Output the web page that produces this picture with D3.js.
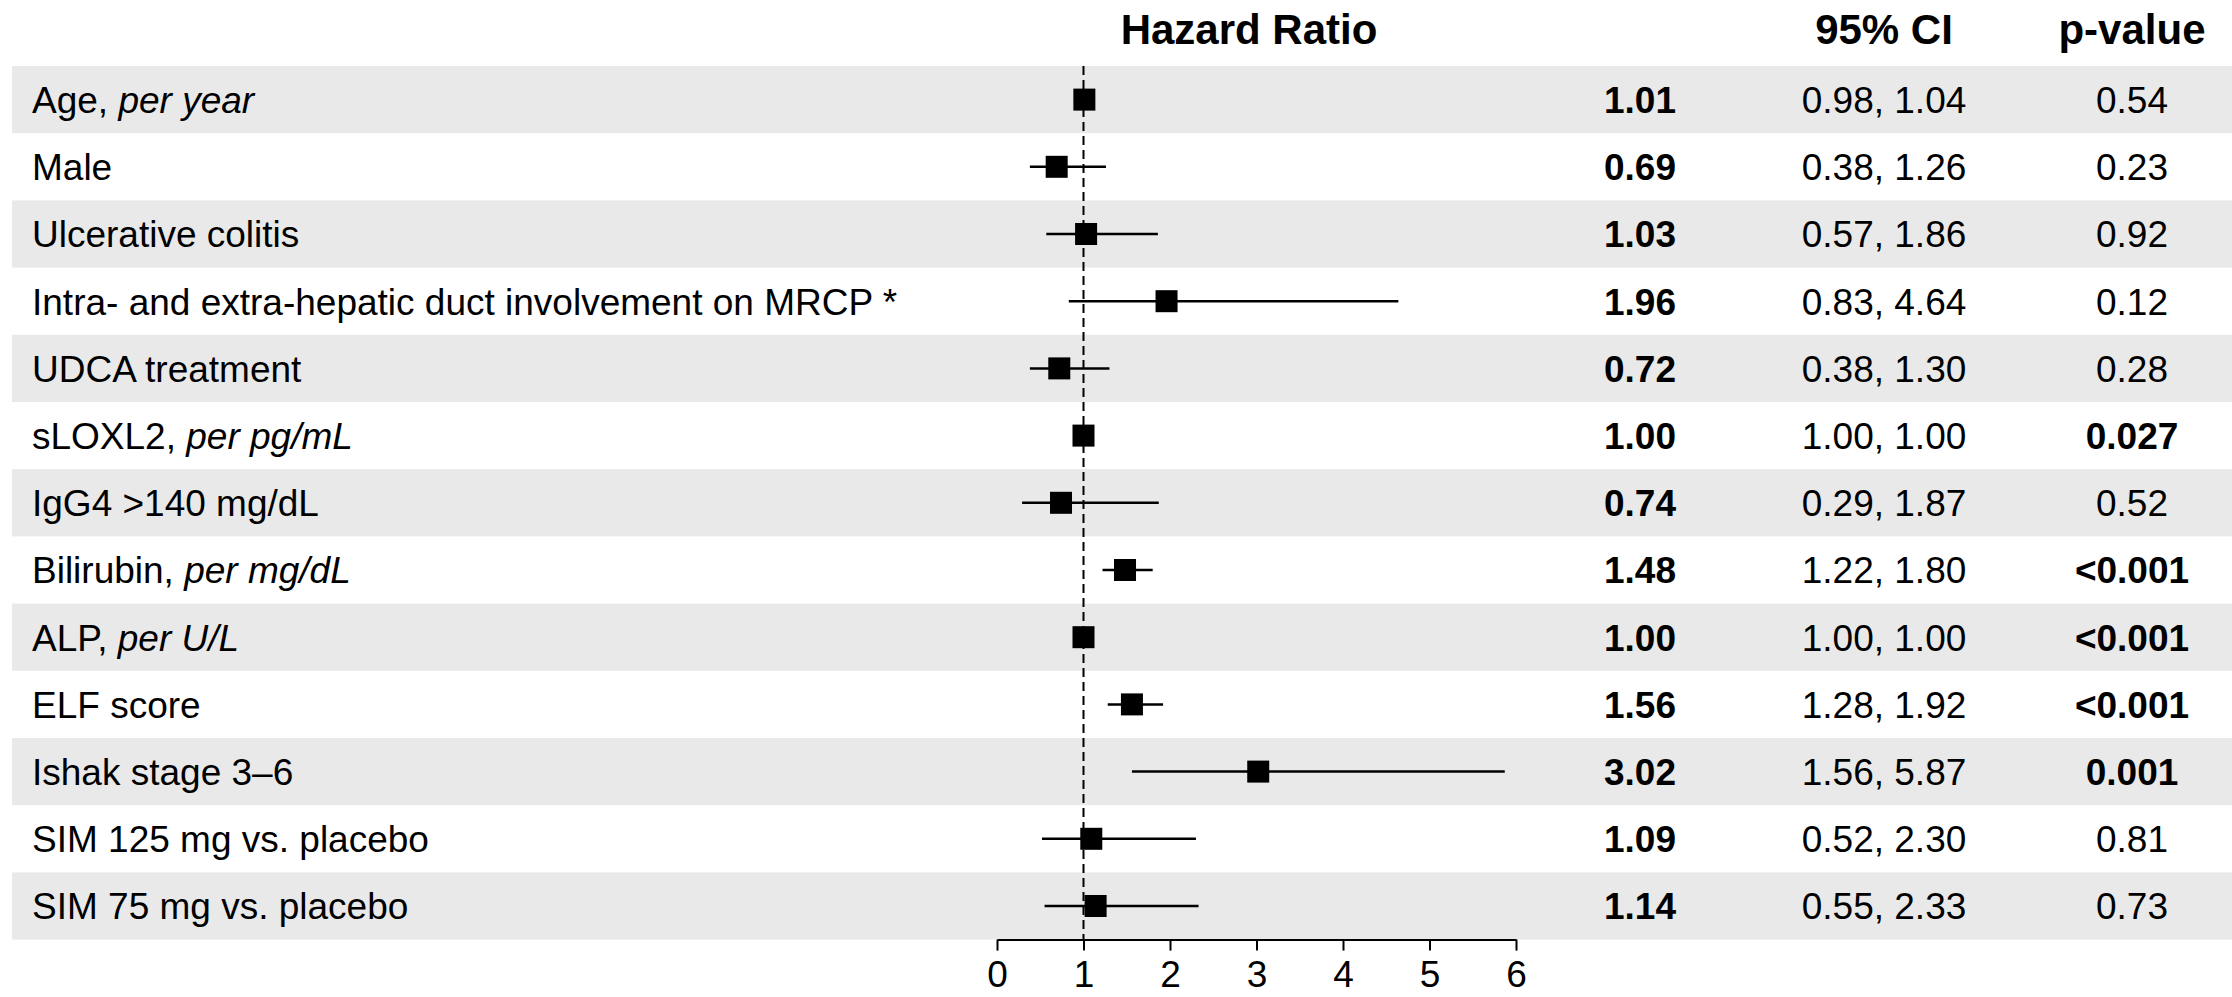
<!DOCTYPE html>
<html>
<head>
<meta charset="utf-8">
<script src="https://d3js.org/d3.v7.min.js"></script>
<style>
  html, body { margin: 0; padding: 0; background: #fff; }
  svg { display: block; font-family: "Liberation Sans", Arial, sans-serif; }
</style>
</head>
<body>
<svg></svg>
<script>
const labels = [
  "Age, ", "Male", "Ulcerative colitis", "Intra- and extra-hepatic duct involvement on MRCP *",
  "UDCA treatment", "sLOXL2, ", "IgG4 >140 mg/dL", "Bilirubin, ", "ALP, ", "ELF score",
  "Ishak stage 3\u20136", "SIM 125 mg vs. placebo", "SIM 75 mg vs. placebo"
];
const labelUnits = ["per year", "", "", "", "", "per pg/mL", "", "per mg/dL", "per U/L", "", "", "", ""];
const hr = [1.01, 0.69, 1.03, 1.96, 0.72, 1.00, 0.74, 1.48, 1.00, 1.56, 3.02, 1.09, 1.14];
const ciLow = [0.98, 0.38, 0.57, 0.83, 0.38, 1.00, 0.29, 1.22, 1.00, 1.28, 1.56, 0.52, 0.55];
const ciHigh = [1.04, 1.26, 1.86, 4.64, 1.30, 1.00, 1.87, 1.80, 1.00, 1.92, 5.87, 2.30, 2.33];
const pValues = ["0.54", "0.23", "0.92", "0.12", "0.28", "0.027", "0.52", "<0.001", "<0.001", "<0.001", "0.001", "0.81", "0.73"];
const pSignificant = [false, false, false, false, false, true, false, true, true, true, true, false, false];
const xTicks = [0, 1, 2, 3, 4, 5, 6];
const headers = ["Hazard Ratio", "95% CI", "p-value"];

document.addEventListener("DOMContentLoaded", function() {
  const width = 2232;
  const height = 997;
  const top = 66;
  const bottom = 939.6;
  const fontSize = 37;
  const hrCol = 1640;
  const ciCol = 1884;
  const pCol = 2132;
  const boxSize = 22;

  let svg = d3.select("svg")
              .attr("width", width)
              .attr("height", height);

  let rows = labels.map((d, i) => i);

  //set up scales
  let xScale = d3.scaleLinear()
                 .domain([0, 6])
                 .range([997, 1516]);

  let yScale = d3.scaleBand()
                 .domain(rows)
                 .range([top, bottom]);

  //striped row backgrounds
  svg.selectAll(".band")
     .data(rows.filter(i => i % 2 === 0))
     .enter()
     .append("rect")
       .attr("x", 12)
       .attr("y", i => yScale(i))
       .attr("width", width - 12)
       .attr("height", yScale.bandwidth())
       .attr("fill", "#e9e9e9");

  //headers
  svg.selectAll(".header")
     .data(headers)
     .enter()
     .append("text")
       .attr("x", (d, i) => [1249, ciCol, pCol][i])
       .attr("y", 44)
       .attr("text-anchor", "middle")
       .style("font-size", "42px")
       .style("font-weight", "bold")
       .text(d => d);

  //row labels
  let label = svg.selectAll(".label")
                 .data(rows)
                 .enter()
                 .append("text")
                   .attr("x", 32)
                   .attr("y", i => yScale(i) + yScale.bandwidth() / 2)
                   .attr("dy", "0.36em")
                   .style("font-size", fontSize + "px");
  label.append("tspan").text(i => labels[i]);
  label.append("tspan").style("font-style", "italic").text(i => labelUnits[i]);

  //reference line at 1
  svg.append("line")
     .attr("x1", xScale(1))
     .attr("x2", xScale(1))
     .attr("y1", top)
     .attr("y2", bottom)
     .attr("stroke", "black")
     .attr("stroke-width", 2)
     .attr("stroke-dasharray", "9,5");

  //confidence intervals
  svg.selectAll(".ci")
     .data(rows)
     .enter()
     .append("line")
       .attr("x1", i => xScale(ciLow[i]))
       .attr("x2", i => xScale(ciHigh[i]))
       .attr("y1", i => yScale(i) + yScale.bandwidth() / 2)
       .attr("y2", i => yScale(i) + yScale.bandwidth() / 2)
       .attr("stroke", "black")
       .attr("stroke-width", 2.5);

  //point estimates
  svg.selectAll(".box")
     .data(rows)
     .enter()
     .append("rect")
       .attr("x", i => xScale(hr[i]) - boxSize / 2)
       .attr("y", i => yScale(i) + yScale.bandwidth() / 2 - boxSize / 2)
       .attr("width", boxSize)
       .attr("height", boxSize)
       .attr("fill", "black");

  //text columns
  svg.selectAll(".hr")
     .data(rows)
     .enter()
     .append("text")
       .attr("x", hrCol)
       .attr("y", i => yScale(i) + yScale.bandwidth() / 2)
       .attr("dy", "0.36em")
       .attr("text-anchor", "middle")
       .style("font-size", fontSize + "px")
       .style("font-weight", "bold")
       .text(i => hr[i].toFixed(2));

  svg.selectAll(".ciText")
     .data(rows)
     .enter()
     .append("text")
       .attr("x", ciCol)
       .attr("y", i => yScale(i) + yScale.bandwidth() / 2)
       .attr("dy", "0.36em")
       .attr("text-anchor", "middle")
       .style("font-size", fontSize + "px")
       .text(i => ciLow[i].toFixed(2) + ", " + ciHigh[i].toFixed(2));

  svg.selectAll(".pText")
     .data(rows)
     .enter()
     .append("text")
       .attr("x", pCol)
       .attr("y", i => yScale(i) + yScale.bandwidth() / 2)
       .attr("dy", "0.36em")
       .attr("text-anchor", "middle")
       .style("font-size", fontSize + "px")
       .style("font-weight", i => pSignificant[i] ? "bold" : "normal")
       .text(i => pValues[i]);

  //set up axis
  let xAxis = d3.axisBottom(xScale)
                .tickValues(xTicks)
                .tickFormat(d3.format("d"))
                .tickSize(11)
                .tickSizeOuter(0)
                .tickPadding(10);

  let axis = svg.append("g")
                .attr("transform", `translate(0,${bottom})`)
                .call(xAxis);
  axis.select(".domain").attr("stroke-width", 2);
  axis.selectAll(".tick line").attr("stroke-width", 2);
  axis.selectAll("text")
      .style("font-size", fontSize + "px")
      .style("font-family", "'Liberation Sans', Arial, sans-serif")
      .attr("fill", "black");
});
</script>
</body>
</html>
